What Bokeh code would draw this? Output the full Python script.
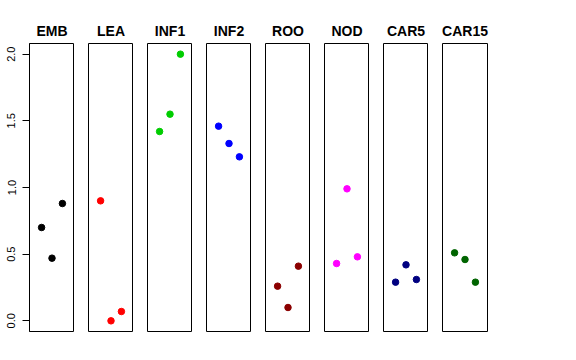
from bokeh.plotting import figure
from bokeh.layouts import row
from bokeh.models import Range1d, FixedTicker, NumeralTickFormatter
from bokeh.embed import file_html
from bokeh.resources import INLINE

categories = ["EMB", "LEA", "INF1", "INF2", "ROO", "NOD", "CAR5", "CAR15"]
x_positions = [1, 2, 3]
emb = [0.70, 0.47, 0.88]
lea = [0.90, 0.00, 0.07]
inf1 = [1.42, 1.55, 2.00]
inf2 = [1.46, 1.33, 1.23]
roo = [0.26, 0.10, 0.41]
nod = [0.43, 0.99, 0.48]
car5 = [0.29, 0.42, 0.31]
car15 = [0.51, 0.46, 0.29]
series = [emb, lea, inf1, inf2, roo, nod, car5, car15]
colors = ["#000000", "#FF0000", "#00CD00", "#0000FF", "#8B0000", "#FF00FF", "#000080", "#006400"]
y_ticks = [0.0, 0.5, 1.0, 1.5, 2.0]

FONT = "Liberation Sans"
figs = []
n = len(categories)
for i, (name, vals, col) in enumerate(zip(categories, series, colors)):
    p = figure(frame_width=45, frame_height=288,
               x_range=Range1d(-0.16, 4.16), y_range=Range1d(-0.08, 2.08),
               output_backend="svg", toolbar_location=None,
               min_border_left=(29 if i == 0 else 14),
               min_border_right=(20 if i == n - 1 else 0),
               min_border_top=43, min_border_bottom=8)
    p.title.text = name
    p.title.align = "center"
    p.title.text_font = FONT
    p.title.text_font_style = "bold"
    p.title.text_font_size = "14px"
    p.title.text_color = "black"
    p.title.standoff = 10
    p.outline_line_color = "black"
    p.outline_line_width = 1
    p.outline_line_alpha = 1
    p.grid.visible = False
    p.background_fill_color = "white"
    p.border_fill_color = "white"
    p.xaxis.visible = False
    if i == 0:
        ax = p.yaxis
        ax.ticker = FixedTicker(ticks=y_ticks)
        ax.formatter = NumeralTickFormatter(format="0.0")
        ax.major_label_orientation = "vertical"
        ax.major_tick_out = 7
        ax.major_tick_in = 0
        ax.minor_tick_out = 0
        ax.minor_tick_in = 0
        ax.axis_line_color = "black"
        ax.major_tick_line_color = "black"
        ax.major_label_text_font = FONT
        ax.major_label_text_font_size = "11px"
        ax.major_label_text_color = "black"
        ax.major_label_standoff = 7
    else:
        p.yaxis.visible = False
    p.scatter(x_positions, vals, size=6.5, color=col)
    figs.append(p)

layout = row(*figs)
open("out.html", "w").write(file_html(layout, INLINE))
